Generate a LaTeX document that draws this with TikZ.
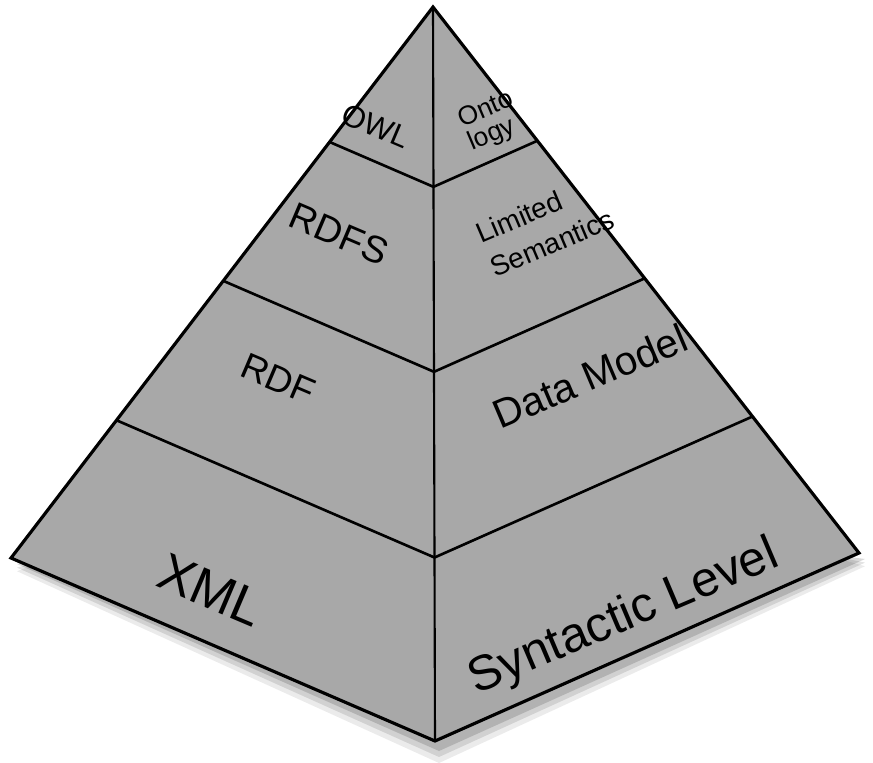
\documentclass[tikz,border=0pt]{standalone}
\usepackage{fontspec}
\setmainfont{Liberation Sans}
\usetikzlibrary{calc}
\begin{document}
\begin{tikzpicture}[x=0.02cm,y=-0.02cm,
  face/.style={fill=black!34},
  edge/.style={line width=1.8pt,line join=miter},
  divider/.style={line width=1.5pt},
  ridge/.style={line width=1.2pt},
  lefttext/.style={rotate=-23,inner sep=0pt},
  righttext/.style={rotate=23,inner sep=0pt,align=left}]
\useasboundingbox (0,0) rectangle (873,762);

% corner points of the pyramid
\coordinate (apex) at (433,7);
\coordinate (L) at (11,558);
\coordinate (B) at (435,741);
\coordinate (R) at (859,553);

% soft shadow under the base
\foreach \o/\op in {22/0.08,16/0.11,10/0.15}{
  \fill[black,opacity=\op] ($(L)+(6,\o*0.6)$) -- ($(B)+(4,\o)$) -- ($(R)+(6,\o*0.6)$) -- ($(R)+(-40,0)$) -- ($(L)+(40,0)$) -- cycle;
}

% the two faces
\fill[face] (apex) -- (L) -- (B) -- (R) -- cycle;

% layer boundaries at a quarter, half and three quarters down
\foreach \t/\n in {0.245/a,0.497/b,0.75/c}{
  \coordinate (l\n) at ($(apex)!\t!(L)$);
  \coordinate (m\n) at ($(apex)!\t!(B)$);
  \coordinate (r\n) at ($(apex)!\t!(R)$);
  \draw[divider] (l\n) -- (m\n) -- (r\n);
}

\draw[ridge] (apex) -- (B);
\draw[edge] (apex) -- (L) -- (B) -- (R) -- cycle;

% left face: languages
\node[lefttext,font=\fontsize{17.5}{17.5}\selectfont] (owl) at (376,126) {OWL};
\node[lefttext,font=\fontsize{21.5}{21.5}\selectfont] (rdfs) at (339,234) {RDFS};
\node[lefttext,font=\fontsize{21}{21}\selectfont] (rdf) at (278,379) {RDF};
\node[lefttext,font=\fontsize{30}{30}\selectfont] (xml) at (211,590) {XML};

% right face: what each layer provides
\node[righttext,font=\fontsize{15}{14.5}\selectfont] (onto) at (491,122) {Onto\\logy};
\node[righttext,font=\fontsize{16}{21}\selectfont] (sem) at (545,226) {Limited\\Semantics};
\node[righttext,font=\fontsize{23}{23}\selectfont] (data) at (590,376) {Data Model};
\node[righttext,font=\fontsize{28}{28}\selectfont] (syn) at (624,618) {Syntactic Level};
\end{tikzpicture}
\end{document}
